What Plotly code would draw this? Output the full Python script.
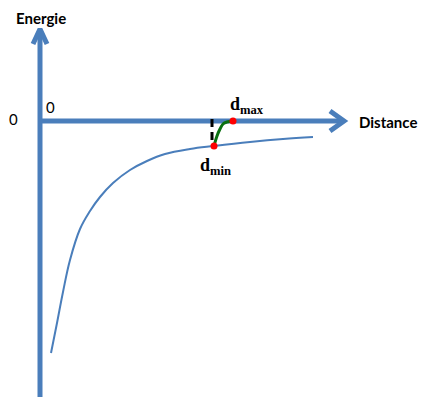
import plotly.graph_objects as go

# origin of the diagram sits where the two axes cross
# potential energy curve (distance, energie)
curve_d = [11, 17, 23, 30, 40, 50, 60, 73, 90, 107, 125, 150, 174, 210, 243, 273]
curve_e = [-232, -202, -171, -139, -108, -90, -76, -62, -49, -40, -33, -28, -25, -21, -18, -16]

# dmin / dmax points and the green transition between them
d_min = [174, -25]
d_max = [193, 0]
trans_d = [174, 177, 180, 183, 187, 193]
trans_e = [-25, -15, -8, -3, -1, 0]

blue = "#4a7ebb"

fig = go.Figure()

# axes drawn as thick lines with open arrowheads
fig.add_trace(go.Scatter(x=[0, 0], y=[-280, 91], mode="lines",
                         line=dict(color=blue, width=5), hoverinfo="skip"))
fig.add_trace(go.Scatter(x=[-7, 0, 7], y=[77, 92, 77], mode="lines",
                         line=dict(color=blue, width=5), hoverinfo="skip"))
fig.add_trace(go.Scatter(x=[0, 303], y=[0, 0], mode="lines",
                         line=dict(color=blue, width=5), hoverinfo="skip"))
fig.add_trace(go.Scatter(x=[290, 304, 290], y=[10, 0, -10], mode="lines",
                         line=dict(color=blue, width=5), hoverinfo="skip"))

# energy curve
fig.add_trace(go.Scatter(x=curve_d, y=curve_e, mode="lines",
                         line=dict(color=blue, width=2, shape="spline", smoothing=1.1)))

# dashed marker
fig.add_trace(go.Scatter(x=[172, 172], y=[2, -24], mode="lines",
                         line=dict(color="black", width=3, dash="8px,5px")))

fig.add_trace(go.Scatter(x=trans_d, y=trans_e, mode="lines",
                         line=dict(color="#0a7010", width=3, shape="spline")))
fig.add_trace(go.Scatter(x=[d_min[0], d_max[0]], y=[d_min[1], d_max[1]], mode="markers",
                         marker=dict(color="red", size=7)))

font_lbl = dict(family="Lato, Open Sans, sans-serif", size=15, color="black")
font_d = dict(family="Liberation Serif, serif", size=18, color="black")
fig.add_annotation(x=1, y=103, text="<b>Energie</b>", showarrow=False, font=font_lbl)
fig.add_annotation(x=348, y=-1, text="<b>Distance</b>", showarrow=False, font=font_lbl)
fig.add_annotation(x=-27, y=2, text="0", showarrow=False, font=dict(family="Lato", size=15, color="black"))
fig.add_annotation(x=10, y=14, text="0", showarrow=False, font=dict(family="Lato", size=15, color="black"))
fig.add_annotation(x=207, y=16, text="<b>d</b><sub><b>max</b></sub>", showarrow=False, font=font_d)
fig.add_annotation(x=175, y=-45, text="<b>d</b><sub><b>min</b></sub>", showarrow=False, font=font_d)

fig.update_layout(
    width=425, height=397,
    margin=dict(l=0, r=0, t=0, b=0),
    paper_bgcolor="white", plot_bgcolor="white",
    showlegend=False,
    xaxis=dict(range=[-40, 385], visible=False),
    yaxis=dict(range=[-276, 121], visible=False),
)

fig.write_html("out.html", config={"displayModeBar": False},
               post_script="document.body.style.margin='0';document.body.style.overflow='hidden';")
